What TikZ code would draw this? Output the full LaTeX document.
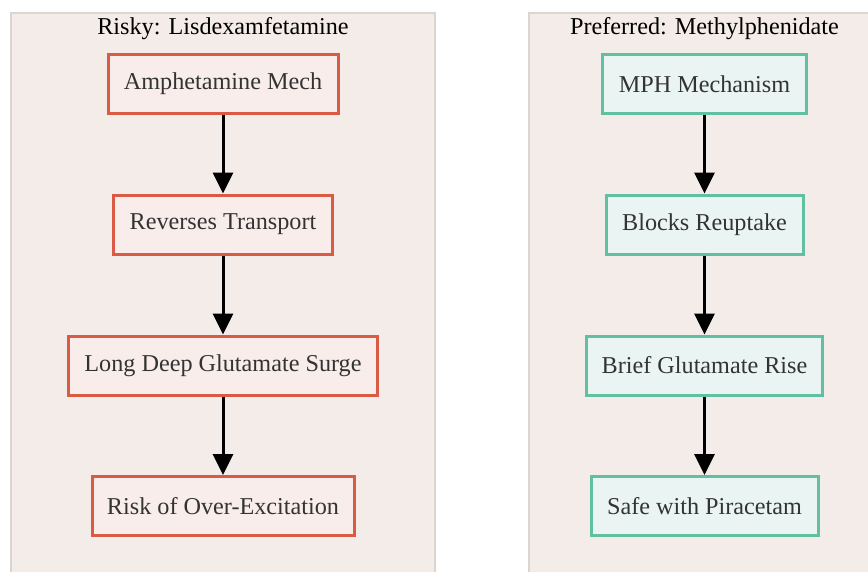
\documentclass[tikz,border=0pt]{standalone}
\usepackage{fontspec}
\setmainfont{Liberation Serif}
\usetikzlibrary{arrows.meta}
\definecolor{clfill}{HTML}{F4ECE8}
\definecolor{clline}{HTML}{DAD5D0}
\definecolor{redline}{HTML}{DB5A44}
\definecolor{redfill}{HTML}{F8EDEA}
\definecolor{grnline}{HTML}{62C0A2}
\definecolor{grnfill}{HTML}{EAF5F3}
\definecolor{txt}{HTML}{333333}
\tikzset{
  cluster/.style={draw=clline, fill=clfill, line width=1.2pt},
  ctitle/.style={font=\fontsize{24.2}{27}\selectfont, text=black, inner sep=0pt},
  base/.style={line width=3pt, inner sep=0pt, minimum height=59pt, font=\fontsize{24.2}{27}\selectfont, text=txt},
  riskbox/.style={base, draw=redline, fill=redfill},
  safebox/.style={base, draw=grnline, fill=grnfill},
  flow/.style={line width=3pt, -{Triangle[length=21pt,width=20pt]}, black}
}
\begin{document}
\begin{tikzpicture}[x=1pt,y=-1pt]
\useasboundingbox (0,0) rectangle (868,571);
\begin{scope}
\clip (0,0) rectangle (868,571);
\path[cluster] (11,13) rectangle (435,580);
\path[cluster] (529,13) rectangle (880,580);
\end{scope}
\node[ctitle] (t1) at (223,29) {Risky: Lisdexamfetamine};
\node[ctitle] (t2) at (704.5,29) {Preferred: Methylphenidate};

\node[riskbox, minimum width=230pt] (l1) at (223,84) {Amphetamine Mech};
\node[riskbox, minimum width=219pt] (l2) at (223,224.5) {Reverses Transport};
\node[riskbox, minimum width=309pt] (l3) at (223,365.5) {Long Deep Glutamate Surge};
\node[riskbox, minimum width=262pt] (l4) at (223,506) {Risk of Over-Excitation};

\node[safebox, minimum width=204pt] (r1) at (704.5,84) {MPH Mechanism};
\node[safebox, minimum width=197pt] (r2) at (704.5,224.5) {Blocks Reuptake};
\node[safebox, minimum width=236pt] (r3) at (704.5,365.5) {Brief Glutamate Rise};
\node[safebox, minimum width=227pt] (r4) at (704.5,506) {Safe with Piracetam};

\draw[flow] (l1) -- (l2);
\draw[flow] (l2) -- (l3);
\draw[flow] (l3) -- (l4);
\draw[flow] (r1) -- (r2);
\draw[flow] (r2) -- (r3);
\draw[flow] (r3) -- (r4);
\end{tikzpicture}
\end{document}
